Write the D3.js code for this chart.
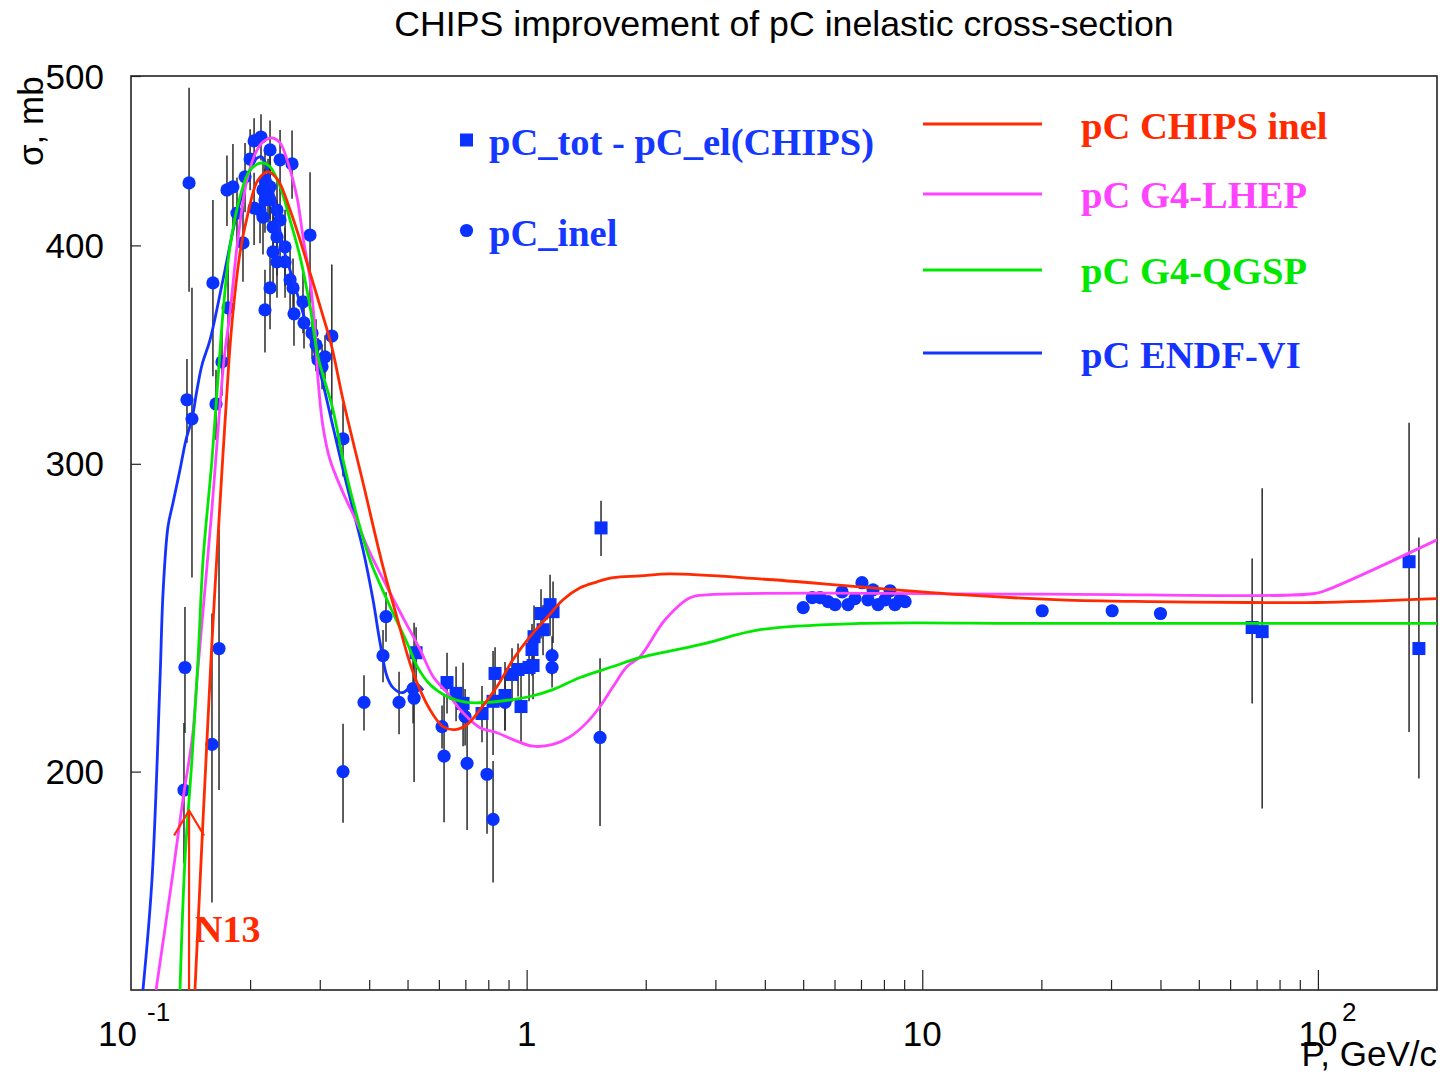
<!DOCTYPE html>
<html>
<head>
<meta charset="utf-8">
<script src="https://cdn.jsdelivr.net/npm/d3@7"></script>
<style>
  body { margin: 0; background: #fff; }
  svg { display: block; }
</style>
</head>
<body>
<div id="chart"></div>
<script>
// pC_inel measurements: [P (GeV/c), sigma (mb), error (mb)]
const inelPoints = [
  [0.1402, 434.3, 58], [0.1385, 326.4, 18], [0.1426, 318.3, 60], [0.1369, 229.4, 19],
  [0.1361, 195.2, 18], [0.1640, 324.6, 15], [0.1669, 235.2, 40], [0.1602, 207.3, 39],
  [0.1611, 380.7, 44], [0.1759, 368.4, 25], [0.1698, 343.1, 15], [0.1748, 430.3, 20],
  [0.1810, 432.1, 25], [0.1853, 417.4, 20], [0.1919, 401.3, 20], [0.1942, 437.8, 20],
  [0.2000, 448.2, 18], [0.2047, 459.0, 14], [0.2131, 461.4, 14], [0.2047, 420.2, 20],
  [0.2156, 415.2, 20], [0.2246, 453.6, 18], [0.2156, 430.3, 18], [0.2181, 424.7, 18],
  [0.2246, 432.1, 18], [0.2119, 419.1, 18], [0.2339, 419.1, 18], [0.2181, 436.0, 18],
  [0.2220, 430.3, 18], [0.2246, 424.7, 18], [0.2246, 378.2, 20], [0.2181, 367.4, 20],
  [0.2381, 447.7, 18], [0.2553, 445.3, 20], [0.2381, 413.6, 20], [0.2286, 409.8, 20],
  [0.2339, 404.5, 20], [0.2451, 399.2, 20], [0.2286, 396.6, 20], [0.2339, 391.4, 18],
  [0.2451, 391.4, 18], [0.2524, 382.3, 15], [0.2568, 378.2, 15], [0.2582, 365.5, 15],
  [0.2721, 371.3, 15], [0.2835, 405.5, 35], [0.2737, 361.2, 12], [0.2868, 356.4, 12],
  [0.2935, 350.9, 12], [0.3218, 355.0, 35], [0.3093, 345.4, 10], [0.2970, 344.0, 10],
  [0.3040, 340.9, 10], [0.3435, 310.0, 15], [0.4411, 245.3, 8], [0.4335, 233.0, 8],
  [0.3881, 219.1, 8], [0.3435, 200.0, 13], [0.4759, 219.1, 9], [0.5194, 220.3, 23],
  [0.5164, 223.1, 10], [0.6112, 212.2, 6], [0.6184, 204.1, 17], [0.7071, 202.2, 17],
  [0.6989, 215.0, 8], [0.7941, 199.3, 15], [0.8225, 187.8, 15], [0.8818, 219.1, 8],
  [1.1595, 233.0, 6], [1.1595, 229.4, 6], [1.533, 209.2, 23],
  [5.00, 248.2, 1], [5.27, 251.5, 1], [5.52, 251.5, 1], [5.78, 250.2, 1], [6.02, 249.2, 1],
  [6.27, 253.4, 1], [6.49, 249.2, 1], [6.76, 251.2, 1], [7.04, 256.5, 1], [7.29, 250.8, 1],
  [7.51, 254.1, 1], [7.73, 249.2, 1], [8.05, 250.8, 1], [8.29, 253.8, 1], [8.53, 249.2, 1],
  [8.79, 250.8, 1], [9.05, 250.2, 1], [20.1, 247.2, 1], [30.2, 247.2, 2], [40.0, 246.3, 1]
];

// pC_tot - pC_el(CHIPS): [P, sigma, error]
const subtrPoints = [
  [0.5255, 233.9, 8], [0.6292, 224.9, 9], [0.6632, 221.7, 8], [0.6908, 218.8, 12],
  [0.7713, 215.9, 8], [0.8225, 219.4, 15], [0.8321, 227.6, 8], [0.8818, 221.1, 10],
  [0.9185, 227.3, 8], [0.9512, 228.8, 8], [0.9679, 217.9, 10], [1.0141, 229.4, 10],
  [1.0380, 230.0, 10], [1.0440, 238.9, 10], [1.0874, 246.3, 8], [1.1002, 241.1, 8],
  [1.1460, 249.2, 10], [1.1662, 246.9, 10], [1.0318, 234.9, 8], [1.542, 275.7, 10],
  [68.2, 241.8, 23], [72.3, 240.5, 50], [170, 263.7, 53], [180, 235.2, 37]
];

// model curves: [P, sigma]
const chipsCurve = [
  [0.1451, 150], [0.1521, 187.8], [0.1593, 231.8], [0.1669, 278.6], [0.1769, 344.0],
  [0.1810, 366.0], [0.1886, 396.1], [0.1976, 417.4], [0.2094, 436.0], [0.2220, 440.7],
  [0.2352, 436.0], [0.2524, 419.1], [0.2675, 402.8], [0.2835, 385.8], [0.3040, 366.0],
  [0.3218, 349.9], [0.3435, 326.4], [0.3859, 292.6], [0.4335, 261.9], [0.4703, 245.0],
  [0.5164, 227.9], [0.5699, 217.0], [0.6148, 212.2], [0.6594, 211.4], [0.7071, 212.8],
  [0.7624, 217.0], [0.8418, 223.7], [0.9239, 231.8], [1.020, 238.9], [1.126, 245.0],
  [1.236, 250.8], [1.365, 254.8], [1.507, 256.8], [1.654, 258.2], [1.935, 258.8],
  [2.304, 259.5], [3.890, 257.8], [6.963, 255.1], [12.46, 252.5], [22.30, 250.8],
  [37.66, 250.2], [67.4, 249.9], [99.5, 249.9], [200, 251.2]
];

const lhepCurve = [
  [0.1157, 150], [0.1277, 175.1], [0.1353, 192.8], [0.1434, 210.5], [0.1468, 225.8],
  [0.1593, 278.6], [0.1718, 344.0], [0.1779, 366.0], [0.1853, 399.2], [0.1964, 436.0],
  [0.2083, 453.6], [0.2156, 458.4], [0.2272, 460.8], [0.2381, 457.8], [0.2494, 445.9],
  [0.2627, 426.4], [0.2721, 404.5], [0.2835, 382.3], [0.2918, 357.9], [0.2970, 335.1],
  [0.3057, 315.0], [0.3184, 301.6], [0.3435, 288.8], [0.3727, 277.6], [0.4019, 266.8],
  [0.4437, 255.1], [0.4870, 245.0], [0.5377, 234.9], [0.5800, 226.7], [0.6292, 221.9],
  [0.6908, 216.1], [0.7624, 211.9], [0.8418, 210.5], [0.9239, 208.6], [1.038, 206.8],
  [1.166, 207.3], [1.287, 209.4], [1.421, 213.4], [1.533, 217.9], [1.654, 223.7],
  [1.794, 229.7], [1.935, 232.7], [2.238, 244.3], [2.589, 251.5], [2.908, 252.5],
  [20.0, 252.7], [97.3, 252.8], [105.5, 254.1], [200, 271.4]
];

const qgspCurve = [
  [0.1330, 150], [0.1369, 178.1], [0.1426, 203.3], [0.1477, 231.8], [0.1521, 264.3],
  [0.1602, 301.6], [0.1660, 335.9], [0.1708, 366.0], [0.1779, 399.2], [0.1886, 426.4],
  [0.2000, 441.8], [0.2144, 445.9], [0.2246, 443.6], [0.2381, 432.1], [0.2524, 413.6],
  [0.2675, 394.0], [0.2835, 368.9], [0.2970, 345.4], [0.3240, 322.1], [0.3435, 301.6],
  [0.3727, 279.8], [0.4019, 264.3], [0.4515, 248.6], [0.4985, 237.0], [0.5300, 229.5],
  [0.5699, 224.3], [0.6292, 220.8], [0.7071, 219.1], [0.7941, 219.1], [0.9239, 219.9],
  [1.020, 220.8], [1.166, 222.8], [1.365, 226.4], [1.654, 229.7], [1.935, 232.4],
  [2.744, 236.4], [3.890, 241.1], [6.963, 243.1], [20.0, 243.1], [200, 243.1]
];

const endfCurve = [
  [0.1072, 150], [0.1130, 173.5], [0.1184, 225.8], [0.1205, 253.1], [0.1240, 276.1],
  [0.1277, 285.0], [0.1330, 297.7], [0.1377, 309.6], [0.1426, 318.3], [0.1468, 330.6],
  [0.1512, 341.8], [0.1584, 353.2], [0.1708, 382.3], [0.1853, 417.4], [0.1964, 436.0],
  [0.2059, 447.7], [0.2144, 449.4], [0.2246, 436.0], [0.2339, 417.4], [0.2423, 399.2],
  [0.2568, 382.3], [0.2721, 366.0], [0.2885, 349.9], [0.3040, 335.1], [0.3240, 315.0],
  [0.3435, 297.7], [0.3641, 282.4], [0.3859, 267.9], [0.4090, 250.8], [0.4261, 237.0],
  [0.4437, 226.7], [0.4594, 223.4], [0.4842, 221.9], [0.5073, 223.4], [0.5284, 224.3],
  [0.5472, 222.6]
];

const series = [
  { name: "pC ENDF-VI",    data: endfCurve,  color: "#1433ff" },
  { name: "pC G4-LHEP",    data: lhepCurve,  color: "#ff44ff" },
  { name: "pC G4-QGSP",    data: qgspCurve,  color: "#00e800" },
  { name: "pC CHIPS inel", data: chipsCurve, color: "#ff2a00" }
];
const legendOrder = ["pC CHIPS inel", "pC G4-LHEP", "pC G4-QGSP", "pC ENDF-VI"];

const xMajor = [0.1, 1, 10, 100];
const xMajorLabels = [["10", "-1"], ["1", ""], ["10", ""], ["10", "2"]];
const xMinor = [0.2, 0.3, 0.4, 0.5, 0.6, 0.7, 0.8, 0.9, 2, 3, 4, 5, 6, 7, 8, 9,
                20, 30, 40, 50, 60, 70, 80, 90];
const yTicks = [200, 300, 400, 500];

const n13 = { p: 0.1402, sigma: 190 };

const W = 1444, H = 1076;
const m = { left: 131, right: 1437, top: 76, bottom: 990 };
const markerBlue = "#0a32ff";
const sans = "'Liberation Sans', Arial, Helvetica, sans-serif";
const serif = "'Liberation Serif', 'Times New Roman', serif";

const x = d3.scaleLog().domain([0.1, 200]).range([m.left, m.right]);
const y = d3.scaleLog().domain([150, 500]).range([m.bottom, m.top]);

const svg = d3.select("#chart").append("svg")
  .attr("width", W).attr("height", H)
  .attr("viewBox", `0 0 ${W} ${H}`);

svg.append("defs").append("clipPath").attr("id", "plot")
  .append("rect")
  .attr("x", m.left).attr("y", m.top)
  .attr("width", m.right - m.left).attr("height", m.bottom - m.top);

// title
svg.append("text")
  .attr("x", 784).attr("y", 36)
  .attr("text-anchor", "middle")
  .style("font-family", sans).style("font-size", "35.7px")
  .text("CHIPS improvement of pC inelastic cross-section");

// ticks
const xMajorAxis = d3.axisBottom(x).tickValues(xMajor.slice(1)).tickSize(-20).tickFormat("");
const xMinorAxis = d3.axisBottom(x).tickValues(xMinor).tickSize(-10).tickFormat("");
const yAxis = d3.axisLeft(y).tickValues(yTicks).tickSize(-10).tickFormat("");

[xMajorAxis, xMinorAxis].forEach(ax => {
  const g = svg.append("g").attr("transform", `translate(0,${m.bottom})`).call(ax);
  g.select(".domain").remove();
  g.selectAll("line").attr("stroke", "#222").attr("stroke-width", 1.2);
});
const gy = svg.append("g").attr("transform", `translate(${m.left},0)`).call(yAxis);
gy.select(".domain").remove();
gy.selectAll("line").attr("stroke", "#222").attr("stroke-width", 1.2);

// frame
svg.append("rect")
  .attr("x", m.left).attr("y", m.top)
  .attr("width", m.right - m.left).attr("height", m.bottom - m.top)
  .attr("fill", "none").attr("stroke", "#222").attr("stroke-width", 1.6);

// y tick labels
svg.append("g").selectAll("text")
  .data(yTicks).join("text")
  .attr("x", 104).attr("y", d => y(d))
  .attr("dy", "0.36em")
  .attr("text-anchor", "end")
  .style("font-family", sans).style("font-size", "35px")
  .text(d => d);

// x tick labels (decade labels, two with exponents)
const xl = svg.append("g").style("font-family", sans);
xMajor.forEach((v, i) => {
  const [base, sup] = xMajorLabels[i];
  const px = x(v);
  const t = xl.append("text")
    .attr("y", 1046)
    .style("font-size", "35px")
    .text(base);
  if (sup && v < 1) {
    t.attr("x", px + 6).attr("text-anchor", "end");
    xl.append("text").attr("x", px + 16).attr("y", 1021)
      .style("font-size", "26px").text(sup);
  } else if (sup) {
    t.attr("x", px).attr("text-anchor", "middle");
    xl.append("text").attr("x", px + 24).attr("y", 1021)
      .style("font-size", "26px").text(sup);
  } else {
    t.attr("x", px).attr("text-anchor", "middle");
  }
});

svg.append("text")
  .attr("x", m.right).attr("y", 1066)
  .attr("text-anchor", "end")
  .style("font-family", sans).style("font-size", "35px")
  .text("P, GeV/c");

svg.append("text")
  .attr("transform", "translate(43,166) rotate(-90)")
  .style("font-family", sans).style("font-size", "35px")
  .text("σ, mb");

const plot = svg.append("g").attr("clip-path", "url(#plot)");

// error bars
const allPts = inelPoints.concat(subtrPoints);
plot.append("g").selectAll("line")
  .data(allPts).join("line")
  .attr("x1", d => x(d[0])).attr("x2", d => x(d[0]))
  .attr("y1", d => y(Math.max(d[1] - d[2], 140)))
  .attr("y2", d => y(d[1] + d[2]))
  .attr("stroke", "#2a2a2a").attr("stroke-width", 1.5);

// markers
plot.append("g").selectAll("circle")
  .data(inelPoints).join("circle")
  .attr("cx", d => x(d[0])).attr("cy", d => y(d[1]))
  .attr("r", 6.6)
  .attr("fill", markerBlue);

plot.append("g").selectAll("rect")
  .data(subtrPoints).join("rect")
  .attr("x", d => x(d[0]) - 6.5).attr("y", d => y(d[1]) - 6.5)
  .attr("width", 13).attr("height", 13)
  .attr("fill", markerBlue);

// model curves
const line = d3.line()
  .x(d => x(d[0])).y(d => y(d[1]))
  .curve(d3.curveCatmullRom.alpha(0.5));

plot.append("g").selectAll("path")
  .data(series).join("path")
  .attr("d", d => line(d.data))
  .attr("fill", "none")
  .attr("stroke", d => d.color)
  .attr("stroke-width", 2.8);

// N13 threshold arrow
const ax0 = x(n13.p), ay0 = y(n13.sigma);
svg.append("path")
  .attr("d", `M${ax0},${m.bottom} L${ax0},${ay0} M${ax0 - 15},${ay0 + 25} L${ax0},${ay0} L${ax0 + 15},${ay0 + 25}`)
  .attr("fill", "none").attr("stroke", "#ff2a00").attr("stroke-width", 2.2);
svg.append("text")
  .attr("x", ax0 + 6).attr("y", 942)
  .attr("fill", "#ff2a00")
  .style("font-family", serif).style("font-weight", "bold").style("font-size", "38px")
  .text("N13");

// point legend
const pl = svg.append("g").style("font-family", serif).style("font-weight", "bold")
  .style("font-size", "38.5px").attr("fill", "#1438ff");
pl.append("rect").attr("x", 460).attr("y", 133.5).attr("width", 13).attr("height", 13)
  .attr("fill", markerBlue);
pl.append("text").attr("x", 489).attr("y", 155).text("pC_tot - pC_el(CHIPS)");
pl.append("circle").attr("cx", 466.5).attr("cy", 230.5).attr("r", 6.6).attr("fill", markerBlue);
pl.append("text").attr("x", 489).attr("y", 246).text("pC_inel");

// curve legend
const legendY = [124, 194, 270, 353];
const legendTextY = [139, 208, 284, 368];
const lg = svg.append("g").style("font-family", serif).style("font-weight", "bold")
  .style("font-size", "38.6px");
legendOrder.forEach((name, i) => {
  const s = series.find(d => d.name === name);
  lg.append("line")
    .attr("x1", 923).attr("x2", 1042)
    .attr("y1", legendY[i]).attr("y2", legendY[i])
    .attr("stroke", s.color).attr("stroke-width", 2.8);
  lg.append("text")
    .attr("x", 1081).attr("y", legendTextY[i])
    .attr("fill", s.color)
    .text(name);
});
</script>
</body>
</html>
